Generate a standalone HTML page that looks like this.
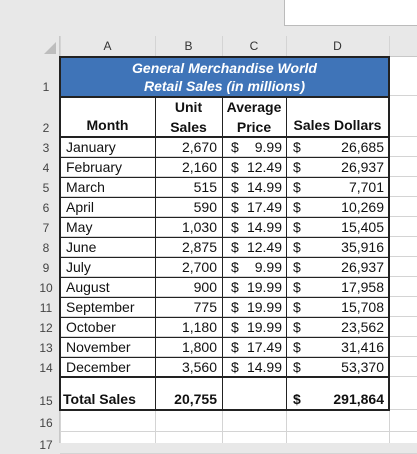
<!DOCTYPE html>
<html><head><meta charset="utf-8"><style>
body{margin:0;width:417px;height:443px;overflow:hidden;background:#e8e8e8;font-family:"Liberation Sans",Arial,sans-serif;position:relative}
.a{position:absolute;box-sizing:border-box}
.t{position:absolute;white-space:nowrap;font-size:14px;color:#111}
.rh{position:absolute;width:22px;text-align:center;font-size:12px;color:#444;left:35px}
.ch{position:absolute;top:36px;height:21px;line-height:21px;text-align:center;font-size:12px;color:#333}
</style></head><body>
<div class="a" style="left:284px;top:0;width:133px;height:26px;background:#fff;border-left:1px solid #bbb;border-bottom:1px solid #bbb"></div>
<div class="a" style="left:60px;top:57px;width:357px;height:386px;background:#fff"></div>
<div class="a" style="left:44px;top:42px;width:0;height:0;border-left:12px solid transparent;border-bottom:12px solid #bdbdbd"></div>
<div id="g"></div>
<script>
const months=["January","February","March","April","May","June","July","August","September","October","November","December"];
const units=["2,670","2,160","515","590","1,030","2,875","2,700","900","775","1,180","1,800","3,560"];
const prices=["9.99","12.49","14.99","17.49","14.99","12.49","9.99","19.99","19.99","19.99","17.49","14.99"];
const dollars=["26,685","26,937","7,701","10,269","15,405","35,916","26,937","17,958","15,708","23,562","31,416","53,370"];
const g=document.getElementById('g');
function add(cls,style,html,name,inter){const d=document.createElement('div');d.className=cls;d.style.cssText=style;d.innerHTML=html;


g.appendChild(d);return d;}
const cx=[60,155,222,286,389];
["A","B","C","D"].forEach((c,i)=>{add('ch',`left:${cx[i]}px;width:${cx[i+1]-cx[i]}px`,c,'column-header-'+c.toLowerCase(),true);});
for(let i=0;i<5;i++){add('a',`left:${cx[i]}px;top:36px;width:1px;height:407px;background:#d4d4d4`,'','column-gridline',false);}
add('a','left:60px;top:56px;width:357px;height:1px;background:#c8c8c8','','header-bottom-line',false);
add('a','left:59px;top:36px;width:1px;height:407px;background:#c8c8c8','','row-header-edge',false);
const rtops=[57,96,137];for(let i=1;i<12;i++)rtops.push(137+20*i);rtops.push(377,410,432,454);
for(let r=0;r<rtops.length-1;r++){
 add('a',`left:60px;top:${rtops[r+1]-1}px;width:357px;height:1px;background:#d4d4d4`,'','row-gridline',false);
 add('rh',`top:${rtops[r+1]-16}px`,String(r+1),'row-header-'+(r+1),true);
}
add('a','left:60px;top:57px;width:329px;height:39px;background:#3f74b8','','title-cell',true);
add('t','left:60px;width:329px;top:59px;text-align:center;color:#fff;font-weight:bold;font-style:italic;line-height:18px','General Merchandise World<br>Retail Sales (in millions)','table-title',false);
add('a','left:60px;top:96px;width:329px;height:41px;background:#fff','','header-row',false);
add('t','left:60px;width:95px;top:117px;text-align:center;font-weight:bold','Month','header-month',false);
add('t','left:155px;width:67px;top:97px;text-align:center;font-weight:bold;line-height:20px','Unit<br>Sales','header-unit-sales',false);
add('t','left:222px;width:64px;top:97px;text-align:center;font-weight:bold;line-height:20px','Average<br>Price','header-average-price',false);
add('t','left:286px;width:103px;top:117px;text-align:center;font-weight:bold','Sales Dollars','header-sales-dollars',false);
months.forEach((m,i)=>{const y=137+20*i+2;
 add('t',`left:66px;top:${y}px`,m,'month-'+m.toLowerCase(),false);
 add('t',`left:155px;width:62px;top:${y}px;text-align:right`,units[i],'unit-sales-'+m.toLowerCase(),false);
 add('t',`left:231px;top:${y}px`,'$','price-currency',false);
 add('t',`left:222px;width:60px;top:${y}px;text-align:right`,prices[i],'average-price-'+m.toLowerCase(),false);
 add('t',`left:293px;top:${y}px`,'$','dollars-currency',false);
 add('t',`left:286px;width:98px;top:${y}px;text-align:right`,dollars[i],'sales-dollars-'+m.toLowerCase(),false);
 if(i>0)add('a',`left:60px;top:${137+20*i}px;width:329px;height:1px;background:#222`,'','row-border',false);
});
add('t','left:63px;top:391px;font-weight:bold','Total Sales','total-label',false);
add('t','left:155px;width:62px;top:391px;text-align:right;font-weight:bold','20,755','total-unit-sales',false);
add('t','left:293px;top:391px;font-weight:bold','$','total-currency',false);
add('t','left:286px;width:98px;top:391px;text-align:right;font-weight:bold','291,864','total-sales-dollars',false);
add('a','left:59px;top:56px;width:331px;height:41px;border:2px solid #222;border-bottom:1px solid #222','','title-border',false);
add('a','left:59px;top:96px;width:331px;height:282px;border:2px solid #222','','table-border',false);
add('a','left:59px;top:376px;width:331px;height:35px;border:2px solid #222','','total-border',false);
add('a','left:60px;top:136px;width:329px;height:2px;background:#222','','header-bottom-border',false);
[155,222,286].forEach(x=>add('a',`left:${x}px;top:97px;width:1px;height:313px;background:#222`,'','column-border',false));
</script>
</body></html>
